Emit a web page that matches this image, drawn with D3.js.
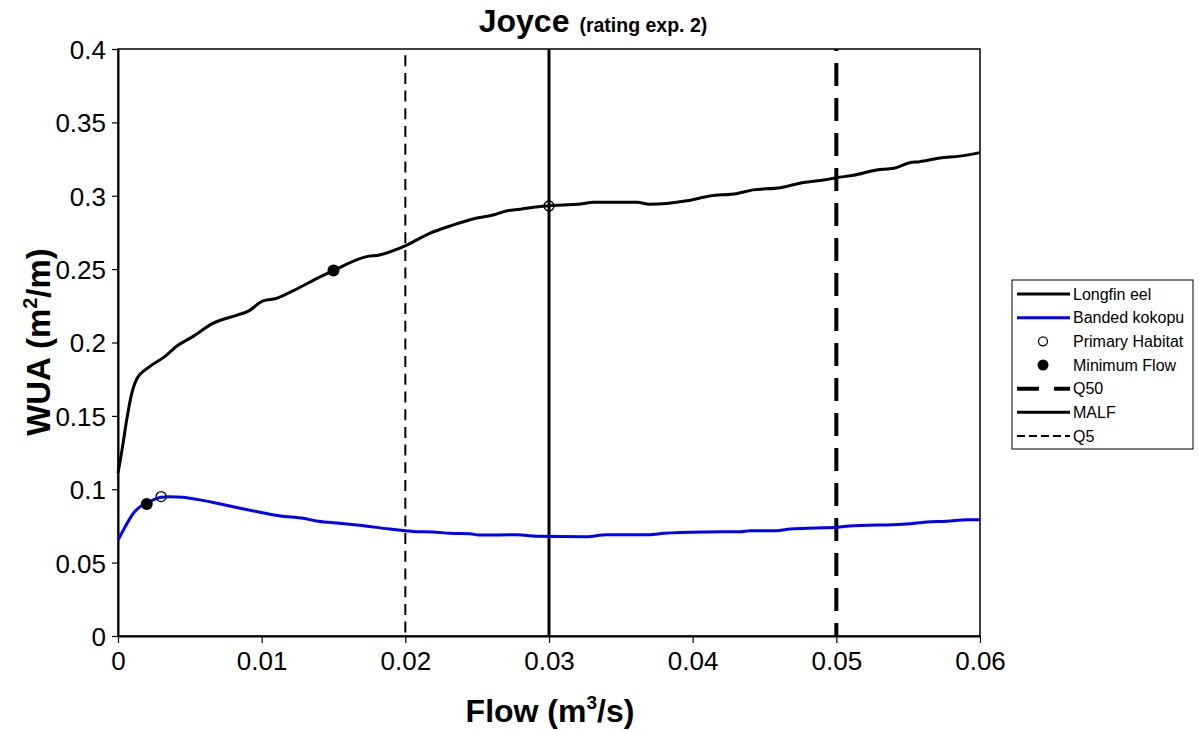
<!DOCTYPE html>
<html>
<head>
<meta charset="utf-8">
<script src="https://cdn.jsdelivr.net/npm/d3@7"></script>
<style>
  html, body { margin: 0; padding: 0; background: #fff; }
  svg text { font-family: "Liberation Sans", Arial, sans-serif; fill: #000; }
</style>
</head>
<body>
<svg id="chart" width="1199" height="731"></svg>
<script>
// Longfin eel WUA curve: flow (m3/s) and WUA (m2/m)
const longfinFlow = [0, 0.0003, 0.0006, 0.00095, 0.0013, 0.0022, 0.0032, 0.0041, 0.0052, 0.0066,
  0.0083, 0.009, 0.0101, 0.011, 0.0122, 0.0141, 0.015, 0.0173, 0.0182, 0.0194, 0.0201, 0.0217,
  0.0233, 0.0247, 0.0261, 0.0271, 0.028, 0.0289, 0.03, 0.0322, 0.0331, 0.0361, 0.037, 0.0396,
  0.0412, 0.0431, 0.0442, 0.0461, 0.0477, 0.0491, 0.05, 0.0512, 0.0528, 0.054, 0.0551, 0.0558,
  0.0572, 0.0586, 0.06];
const longfinWUA = [0.111, 0.128, 0.147, 0.165, 0.175, 0.1835, 0.190, 0.1976, 0.204, 0.213,
  0.2187, 0.221, 0.2283, 0.230, 0.2353, 0.2449, 0.249, 0.2585, 0.2596, 0.2635, 0.2664, 0.2744,
  0.280, 0.2842, 0.2869, 0.2898, 0.2908, 0.2922, 0.2932, 0.2944, 0.2955, 0.2955, 0.2942, 0.2966,
  0.2998, 0.3016, 0.304, 0.3055, 0.309, 0.3107, 0.3123, 0.3139, 0.3175, 0.3187, 0.3225, 0.3232,
  0.3257, 0.327, 0.3294];

// Banded kokopu WUA curve
const kokopuFlow = [0, 0.0005, 0.0011, 0.0016, 0.002, 0.003, 0.0036, 0.0045, 0.0055, 0.0069,
  0.0085, 0.0099, 0.0113, 0.0129, 0.0138, 0.015, 0.0168, 0.0189, 0.02, 0.0208, 0.0219, 0.0231,
  0.0245, 0.0251, 0.0278, 0.0291, 0.0326, 0.034, 0.037, 0.038, 0.041, 0.0433, 0.044, 0.0458,
  0.0468, 0.0486, 0.05, 0.0512, 0.053, 0.0549, 0.0563, 0.0577, 0.0591, 0.06];
const kokopuWUA = [0.0654, 0.0745, 0.084, 0.0885, 0.0905, 0.0945, 0.0949, 0.0945, 0.0931, 0.0904,
  0.087, 0.0843, 0.0818, 0.0802, 0.0784, 0.0772, 0.0754, 0.0729, 0.0718, 0.0711, 0.0709, 0.070,
  0.0697, 0.0688, 0.069, 0.0679, 0.0677, 0.069, 0.069, 0.070, 0.0709, 0.0711, 0.0718, 0.0718,
  0.0729, 0.0736, 0.0741, 0.0752, 0.0756, 0.0763, 0.0777, 0.0782, 0.0793, 0.0793];

// Flow markers: [flow, wua]
const primaryHabitat = [[0.03, 0.293], [0.003, 0.095]];
const minimumFlow = [[0.015, 0.249], [0.002, 0.090]];

// Reference flows
const refFlowNames = ["Q5", "MALF", "Q50"];
const refFlowValues = [0.02, 0.03, 0.05];

const xTicks = [0, 0.01, 0.02, 0.03, 0.04, 0.05, 0.06];
const yTicks = [0, 0.05, 0.1, 0.15, 0.2, 0.25, 0.3, 0.35, 0.4];
const legendLabels = ["Longfin eel", "Banded kokopu", "Primary Habitat", "Minimum Flow", "Q50", "MALF", "Q5"];

const svg = d3.select("#chart");
const plotLeft = 118, plotRight = 980, plotTop = 49, plotBottom = 636;

const x = d3.scaleLinear().domain([0, 0.06]).range([plotLeft, plotRight]);
const y = d3.scaleLinear().domain([0, 0.4]).range([plotBottom, plotTop]);

// plot frame
svg.append("rect").attr("x", plotLeft).attr("y", plotTop)
  .attr("width", plotRight - plotLeft).attr("height", plotBottom - plotTop)
  .attr("fill", "none").attr("stroke", "#000").attr("stroke-width", 1.5);

// axes
const xAxis = svg.append("g").attr("transform", `translate(0,${plotBottom})`)
  .call(d3.axisBottom(x).tickValues(xTicks).tickSize(7).tickSizeOuter(0)
    .tickFormat(d => d === 0 ? "0" : d3.format(".2f")(d)));
const yAxis = svg.append("g").attr("transform", `translate(${plotLeft},0)`)
  .call(d3.axisLeft(y).tickValues(yTicks).tickSize(6).tickSizeOuter(0)
    .tickFormat(d => d === 0 ? "0" : String(+d.toFixed(2))));
[xAxis, yAxis].forEach(g => {
  g.select(".domain").attr("stroke", "#000").attr("stroke-width", 2);
  g.selectAll(".tick line").attr("stroke", "#000").attr("stroke-width", 1.2);
  g.selectAll(".tick text").attr("font-size", 26).attr("font-family", "Liberation Sans, Arial, sans-serif");
});
xAxis.selectAll(".tick text").attr("y", 34).attr("dy", 0);
yAxis.selectAll(".tick text").attr("x", -12).attr("dy", "0.36em");

// reference flow lines
const refStyles = {
  Q5: { width: 2, dash: "11,6.7", offset: 11.5 },
  MALF: { width: 3, dash: null, offset: 0 },
  Q50: { width: 4, dash: "23,12", offset: 21 }
};
refFlowNames.forEach((n, i) => {
  const s = refStyles[n];
  const l = svg.append("line")
    .attr("x1", x(refFlowValues[i])).attr("x2", x(refFlowValues[i]))
    .attr("y1", plotTop).attr("y2", plotBottom)
    .attr("stroke", "#000").attr("stroke-width", s.width);
  if (s.dash) l.attr("stroke-dasharray", s.dash).attr("stroke-dashoffset", s.offset);
});

// WUA curves
const line = d3.line().x(d => x(d[0])).y(d => y(d[1])).curve(d3.curveMonotoneX);
const longfin = longfinFlow.map((f, i) => [f, longfinWUA[i]]);
const kokopu = kokopuFlow.map((f, i) => [f, kokopuWUA[i]]);
svg.append("path").datum(longfin).attr("d", line)
  .attr("fill", "none").attr("stroke", "#000").attr("stroke-width", 3);
svg.append("path").datum(kokopu).attr("d", line)
  .attr("fill", "none").attr("stroke", "#0000ff").attr("stroke-width", 3);

// markers
svg.selectAll(".ph").data(primaryHabitat).enter().append("circle")
  .attr("cx", d => x(d[0])).attr("cy", d => y(d[1])).attr("r", 5)
  .attr("fill", "none").attr("stroke", "#000").attr("stroke-width", 1.3);
svg.selectAll(".mf").data(minimumFlow).enter().append("circle")
  .attr("cx", d => x(d[0])).attr("cy", d => y(d[1])).attr("r", 6)
  .attr("fill", "#000");

// title
const title = svg.append("text").attr("x", 593).attr("y", 32).attr("text-anchor", "middle")
  .attr("font-weight", "bold");
title.append("tspan").attr("font-size", 32).text("Joyce");
title.append("tspan").attr("font-size", 19.5).attr("dx", 10).text("(rating exp. 2)");

// axis titles
const xt = svg.append("text").attr("x", 550).attr("y", 722).attr("text-anchor", "middle")
  .attr("font-weight", "bold").attr("font-size", 32);
xt.append("tspan").text("Flow (m");
xt.append("tspan").attr("font-size", 19).attr("dy", -13).text("3");
xt.append("tspan").attr("dy", 13).text("/s)");

const yt = svg.append("text").attr("transform", `translate(50,342) rotate(-90)`)
  .attr("text-anchor", "middle").attr("font-weight", "bold").attr("font-size", 33);
yt.append("tspan").text("WUA (m");
yt.append("tspan").attr("font-size", 20).attr("dy", -13).text("2");
yt.append("tspan").attr("dy", 13).text("/m)");

// legend
const lg = svg.append("g");
lg.append("rect").attr("x", 1012).attr("y", 280).attr("width", 181).attr("height", 169)
  .attr("fill", "#fff").attr("stroke", "#000").attr("stroke-width", 1);
const rowY = d3.scalePoint().domain(legendLabels).range([294, 436]);
const lx1 = 1017, lx2 = 1070, lmid = 1043;
legendLabels.forEach(name => {
  const yy = rowY(name);
  if (name === "Longfin eel" || name === "MALF") {
    lg.append("line").attr("x1", lx1).attr("x2", lx2).attr("y1", yy).attr("y2", yy)
      .attr("stroke", "#000").attr("stroke-width", 3);
  } else if (name === "Banded kokopu") {
    lg.append("line").attr("x1", lx1).attr("x2", lx2).attr("y1", yy).attr("y2", yy)
      .attr("stroke", "#0000ff").attr("stroke-width", 3);
  } else if (name === "Primary Habitat") {
    lg.append("circle").attr("cx", lmid).attr("cy", yy).attr("r", 4.5)
      .attr("fill", "none").attr("stroke", "#000").attr("stroke-width", 1.3);
  } else if (name === "Minimum Flow") {
    lg.append("circle").attr("cx", lmid).attr("cy", yy).attr("r", 5.5).attr("fill", "#000");
  } else if (name === "Q50") {
    lg.append("line").attr("x1", lx1).attr("x2", lx2).attr("y1", yy).attr("y2", yy)
      .attr("stroke", "#000").attr("stroke-width", 4).attr("stroke-dasharray", "22,15");
  } else if (name === "Q5") {
    lg.append("line").attr("x1", lx1).attr("x2", lx2).attr("y1", yy).attr("y2", yy)
      .attr("stroke", "#000").attr("stroke-width", 2).attr("stroke-dasharray", "8,4");
  }
  lg.append("text").attr("x", 1073).attr("y", yy).attr("dy", "0.36em")
    .attr("font-size", 16).text(name);
});
</script>
</body>
</html>
